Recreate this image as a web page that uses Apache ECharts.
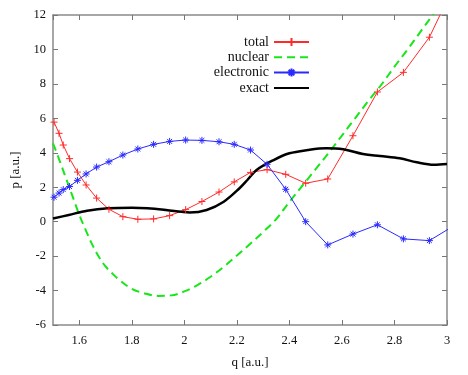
<!DOCTYPE html>
<html>
<head>
<meta charset="utf-8">
<script src="https://cdn.jsdelivr.net/npm/echarts@6/dist/echarts.min.js"></script>
<style>
  html, body { margin: 0; padding: 0; background: #fff; }
  #chart { width: 468px; height: 375px; }
</style>
</head>
<body>
<div id="chart"></div>
<script>
// q positions of the marked points (total + electronic share them)
const qMarks = [1.504, 1.523, 1.539, 1.563, 1.593, 1.626, 1.666, 1.713, 1.766, 1.823, 1.883, 1.944, 2.005,
  2.067, 2.132, 2.19, 2.252, 2.315, 2.386, 2.462, 2.546, 2.642, 2.735, 2.834, 2.933, 3.03];
const totalP = [5.78, 5.13, 4.45, 3.66, 2.88, 2.13, 1.37, 0.72, 0.29, 0.14, 0.16, 0.35, 0.70,
  1.17, 1.72, 2.31, 2.86, 3.02, 2.75, 2.23, 2.48, 4.99, 7.53, 8.67, 10.71, 13.8];
const electronicP = [1.42, 1.66, 1.86, 2.04, 2.40, 2.77, 3.17, 3.48, 3.87, 4.22, 4.49, 4.66, 4.74,
  4.72, 4.64, 4.49, 4.16, 3.33, 1.88, 0.0, -1.35, -0.72, -0.18, -1.0, -1.10, -0.2];

// nuclear (green dashed curve)
const qNuclear = [1.5, 1.525, 1.55, 1.575, 1.6, 1.625, 1.65, 1.675, 1.7, 1.725, 1.75, 1.8, 1.85, 1.9,
  1.95, 2.0, 2.05, 2.1, 2.15, 2.2, 2.25, 2.3, 2.35, 2.4, 2.45, 2.5, 2.55, 2.6, 2.65, 2.7, 2.75,
  2.8, 2.85, 2.9, 2.95, 3.0];
const nuclearP = [4.55, 3.55, 2.5, 1.45, 0.4, -0.5, -1.35, -2.05, -2.6, -3.0, -3.35, -3.9, -4.17, -4.31,
  -4.28, -4.05, -3.68, -3.2, -2.62, -1.97, -1.3, -0.6, 0.15, 1.15, 2.1, 3.05, 4.0, 5.0, 6.0, 7.0, 7.95,
  9.0, 10.0, 11.05, 12.1, 13.2];

// exact (black curve)
const qExact = [1.5, 1.56, 1.63, 1.71, 1.8, 1.86, 1.93, 1.99, 2.02, 2.085, 2.15, 2.21, 2.24, 2.275,
  2.34, 2.4, 2.47, 2.54, 2.605, 2.68, 2.745, 2.82, 2.885, 2.95, 3.0];
const exactP = [0.18, 0.39, 0.64, 0.78, 0.81, 0.78, 0.68, 0.57, 0.53, 0.68, 1.16, 1.94, 2.42, 3.0,
  3.58, 3.97, 4.16, 4.26, 4.2, 3.93, 3.81, 3.68, 3.45, 3.31, 3.35];

const pairs = (xs, ys) => xs.map((x, i) => [x, ys[i]]);

const font = 'Liberation Serif';
const plusPath = 'path://M0,5L10,5M5,0L5,10';
const starPath = 'path://M0,5L10,5M5,0L5,10M1.5,1.5L8.5,8.5M8.5,1.5L1.5,8.5';

const frameLine = { show: true, onZero: false, lineStyle: { color: '#8a8a8a', width: 1.5 } };
const inTick = { show: true, inside: true, length: 5, lineStyle: { color: '#777', width: 1 } };
const tickText = { fontFamily: font, fontSize: 12.5, color: '#111' };
const titleText = { fontFamily: font, fontSize: 13, color: '#111' };

const chart = echarts.init(document.getElementById('chart'));
chart.setOption({
  animation: false,
  textStyle: { fontFamily: font },
  grid: { left: 53, right: 21, top: 15, bottom: 50 },
  legend: {
    orient: 'vertical',
    align: 'right',
    right: 158,
    top: 35,
    padding: 0,
    itemWidth: 35,
    itemHeight: 10,
    itemGap: 1.3,
    textStyle: { fontFamily: font, fontSize: 14, color: '#111' },
    data: [
      'total',
      { name: 'nuclear', itemStyle: { opacity: 0 } },
      'electronic',
      { name: 'exact', itemStyle: { opacity: 0 } }
    ]
  },
  xAxis: [
    {
      type: 'value', min: 1.5, max: 3, splitNumber: 7,
      name: 'q [a.u.]', nameLocation: 'middle', nameGap: 31,
      nameTextStyle: titleText,
      axisLine: frameLine, axisTick: inTick, splitLine: { show: false },
      axisLabel: Object.assign({ showMinLabel: false, margin: 9 }, tickText)
    },
    {
      type: 'value', position: 'top', min: 1.5, max: 3, splitNumber: 7,
      axisLine: frameLine, axisTick: inTick, splitLine: { show: false },
      axisLabel: { show: false }
    }
  ],
  yAxis: [
    {
      type: 'value', min: -6, max: 12, interval: 2,
      name: 'p [a.u.]', nameLocation: 'middle', nameGap: 31,
      nameTextStyle: titleText,
      axisLine: frameLine, axisTick: inTick, splitLine: { show: false },
      axisLabel: Object.assign({ margin: 7 }, tickText)
    },
    {
      type: 'value', position: 'right', min: -6, max: 12, interval: 2,
      axisLine: frameLine, axisTick: inTick, splitLine: { show: false },
      axisLabel: { show: false }
    }
  ],
  series: [
    {
      name: 'total', type: 'line', data: pairs(qMarks, totalP),
      symbol: plusPath, symbolSize: 7,
      itemStyle: { color: '#ff2a2a', borderColor: '#ff2a2a', borderWidth: 1 },
      lineStyle: { color: '#ff2a2a', width: 1 }
    },
    {
      name: 'nuclear', type: 'line', data: pairs(qNuclear, nuclearP),
      smooth: 0.35, showSymbol: false,
      itemStyle: { color: '#19e619' },
      lineStyle: { color: '#19e619', width: 2, type: [8, 5] }
    },
    {
      name: 'electronic', type: 'line', data: pairs(qMarks, electronicP),
      symbol: starPath, symbolSize: 7,
      itemStyle: { color: '#2a2aff', borderColor: '#2a2aff', borderWidth: 1 },
      lineStyle: { color: '#2a2aff', width: 1 }
    },
    {
      name: 'exact', type: 'line', data: pairs(qExact, exactP),
      smooth: 0.35, showSymbol: false,
      itemStyle: { color: '#000' },
      lineStyle: { color: '#000', width: 2.5 }
    }
  ]
});
</script>
</body>
</html>
